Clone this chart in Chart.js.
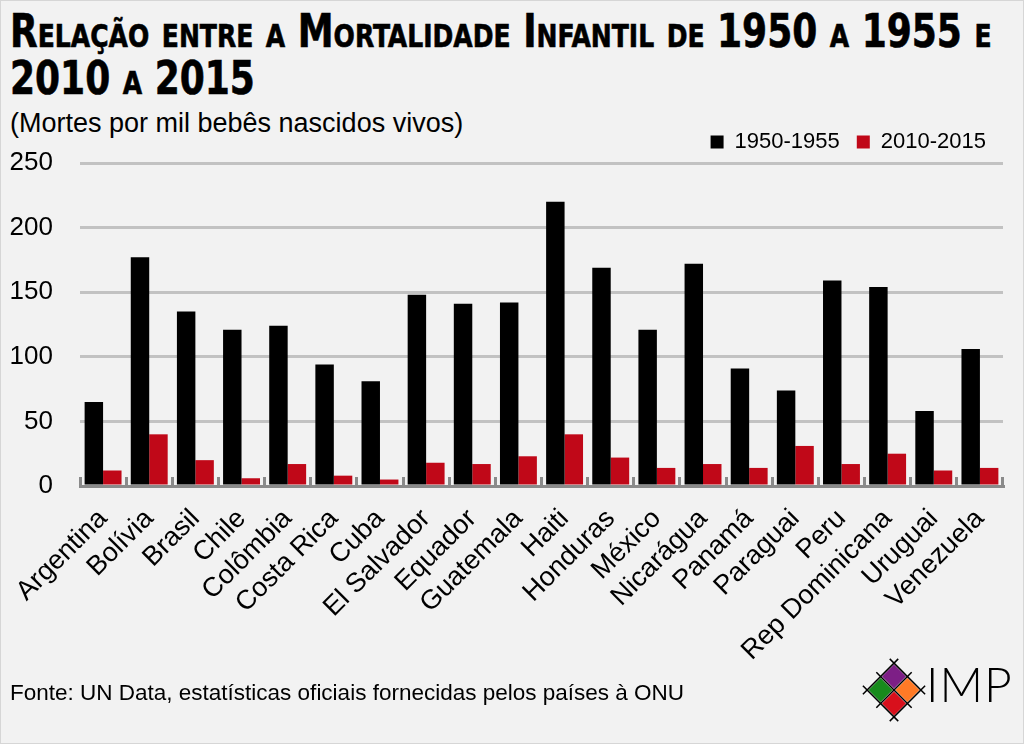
<!DOCTYPE html>
<html>
<head>
<meta charset="utf-8">
<script src="https://cdn.jsdelivr.net/npm/chart.js@4.4.1/dist/chart.umd.min.js"></script>
<style>
  html, body { margin: 0; padding: 0; }
  body {
    width: 1024px; height: 744px; position: relative; overflow: hidden;
    background: #f2f2f2; font-family: "Liberation Sans", Arial, sans-serif; color: #000;
  }
  #frame { position: absolute; left: 0; top: 0; width: 1022px; height: 742px; border: 1px solid #d6d6d6; }
  #title {
    position: absolute; left: 10px; top: 8px; white-space: nowrap;
    font-family: "Liberation Sans Narrow", "DejaVu Sans Condensed", sans-serif;
    font-weight: bold; font-variant: small-caps; font-size: 46px; line-height: 47px;
    transform: scaleX(0.87); transform-origin: 0 0;
    -webkit-text-stroke: 0.6px #000;
  }
  #subtitle { position: absolute; left: 10px; top: 108px; font-size: 27px; white-space: nowrap; }
  #source { position: absolute; left: 10px; top: 680px; font-size: 22.5px; white-space: nowrap; }
  #chart { position: absolute; left: 0; top: 0; }
  #logo { position: absolute; left: 862px; top: 658px; }
  #logo span {
    position: absolute; left: 64px; top: -3px; font-family: Lato, "Open Sans", sans-serif;
    font-weight: 300; font-size: 48px; letter-spacing: 1px;
  }
</style>
</head>
<body>
<div id="frame"></div>
<div id="title">Relação entre a Mortalidade Infantil de 1950 a 1955 e<br>2010 a 2015</div>
<div id="subtitle">(Mortes por mil bebês nascidos vivos)</div>
<canvas id="chart" width="1024" height="744"></canvas>
<div id="source">Fonte: UN Data, estatísticas oficiais fornecidas pelos países à ONU</div>
<div id="logo">
  <svg width="64" height="64" viewBox="-32 -32 64 64">
    <g transform="rotate(45)">
      <rect x="-18" y="-18" width="17" height="17" fill="#7d1f86"/>
      <rect x="1" y="-18" width="17" height="17" fill="#ff7a26"/>
      <rect x="-18" y="1" width="17" height="17" fill="#178a1c"/>
      <rect x="1" y="1" width="17" height="17" fill="#d8101c"/>
      <g stroke="#000" stroke-width="1.5">
        <line x1="-19" y1="-25" x2="-19" y2="25"/>
        <line x1="0" y1="-25" x2="0" y2="25"/>
        <line x1="19" y1="-25" x2="19" y2="25"/>
        <line x1="-25" y1="-19" x2="25" y2="-19"/>
        <line x1="-25" y1="0" x2="25" y2="0"/>
        <line x1="-25" y1="19" x2="25" y2="19"/>
      </g>
    </g>
  </svg>
  <span>IMP</span>
</div>
<script>
const countries = ['Argentina', 'Bolívia', 'Brasil', 'Chile', 'Colômbia', 'Costa Rica', 'Cuba',
  'El Salvador', 'Equador', 'Guatemala', 'Haiti', 'Honduras', 'México', 'Nicarágua', 'Panamá',
  'Paraguai', 'Peru', 'Rep Dominicana', 'Uruguai', 'Venezuela'];
const mort1950 = [65, 177, 135, 121, 124, 94, 81, 148, 141, 142, 220, 169, 121, 172, 91, 74, 159, 154, 58, 106];
const mort2010 = [12, 40, 20, 6, 17, 8, 5, 18, 17, 23, 40, 22, 14, 17, 14, 31, 17, 25, 12, 14];
const yTicks = [0, 50, 100, 150, 200, 250];

Chart.defaults.font.family = "'Liberation Sans', Arial, sans-serif";
Chart.defaults.color = '#000';

const ctx = document.getElementById('chart').getContext('2d');
new Chart(ctx, {
  type: 'bar',
  data: {
    labels: countries,
    datasets: [
      { label: '1950-1955', data: mort1950, backgroundColor: '#000000' },
      { label: '2010-2015', data: mort2010, backgroundColor: '#c00818' }
    ]
  },
  options: {
    responsive: false,
    devicePixelRatio: 1,
    animation: false,
    categoryPercentage: 0.8,
    barPercentage: 1.0,
    layout: { padding: { top: 114, right: 21, left: 0, bottom: 0 } },
    plugins: {
      tooltip: { enabled: false },
      legend: {
        position: 'top',
        align: 'end',
        labels: { boxWidth: 13, boxHeight: 13, padding: 17, font: { size: 22 } }
      }
    },
    scales: {
      x: {
        // keep the plot area fixed: rotated labels may spill left
        afterFit: (scale) => { scale.height = 258; scale.paddingLeft = 0; scale.paddingRight = 0; },
        grid: { drawOnChartArea: false, drawTicks: true, tickLength: -9, color: '#8a8a8a', lineWidth: 3 },
        border: { display: true, color: '#8a8a8a', width: 3 },
        ticks: { autoSkip: false, maxRotation: 45, minRotation: 45, padding: 26, font: { size: 27 } }
      },
      y: {
        min: 0,
        max: 250,
        afterFit: (scale) => { scale.width = 80; },
        afterBuildTicks: (scale) => { scale.ticks = yTicks.map(v => ({ value: v })); },
        grid: { color: '#c2c2c2', lineWidth: 3, drawTicks: false },
        border: { display: false },
        ticks: { padding: 27, font: { size: 26 } }
      }
    }
  }
});
</script>
</body>
</html>
